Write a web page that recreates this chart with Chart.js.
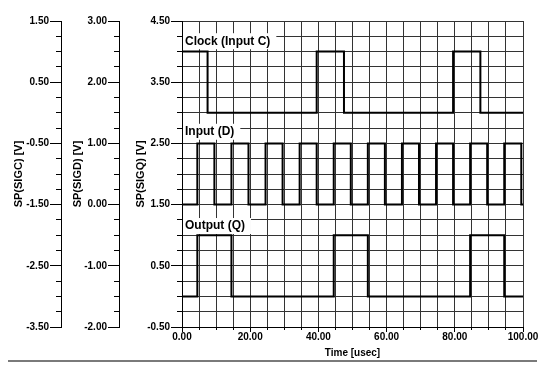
<!DOCTYPE html>
<html><head><meta charset="utf-8">
<script src="https://cdn.jsdelivr.net/npm/chart.js@4.4.0/dist/chart.umd.min.js"></script>
<style>html,body{margin:0;padding:0;background:#fff;}canvas{display:block;}</style>
</head><body>
<canvas id="c" width="544" height="369"></canvas>
<script>
// ---- data ----
const clockTime  = [0, 7.5, 7.5, 39.5, 39.5, 47.5, 47.5, 79.5, 79.5, 87.5, 87.5, 100];
const clockValue = [1, 1,   0,   0,    1,    1,    0,    0,    1,    1,    0,    0];

const inputTime  = [0, 4.5, 4.5, 9.5, 9.5, 14.5, 14.5, 19.5, 19.5, 24.5, 24.5, 29.5, 29.5, 34.5, 34.5,
                    39.5, 39.5, 44.5, 44.5, 49.5, 49.5, 54.5, 54.5, 59.5, 59.5, 64.5, 64.5, 69.5, 69.5,
                    74.5, 74.5, 79.5, 79.5, 84.5, 84.5, 89.5, 89.5, 94.5, 94.5, 99.5, 99.5, 100];
const inputValue = [0, 0, 1, 1, 0, 0, 1, 1, 0, 0, 1, 1, 0, 0, 1,
                    1, 0, 0, 1, 1, 0, 0, 1, 1, 0, 0, 1, 1, 0,
                    0, 1, 1, 0, 0, 1, 1, 0, 0, 1, 1, 0, 0];

const outputTime  = [0, 4.5, 4.5, 14.5, 14.5, 44.5, 44.5, 54.5, 54.5, 84.5, 84.5, 94.5, 94.5, 100];
const outputValue = [0, 0,   1,   1,    0,    0,    1,    1,    0,    0,    1,    1,    0,    0];

const signalLabels = ['Clock (Input C)', 'Input (D)', 'Output (Q)'];
const signalLabelY = [4.17, 2.69, 1.15];   // in SP(SIGQ) units

const xMajorTicks    = [0, 20, 40, 60, 80, 100];
const sigcMajorTicks = [-3.5, -2.5, -1.5, -0.5, 0.5, 1.5];
const sigdMajorTicks = [-2, -1, 0, 1, 2, 3];
const sigqMajorTicks = [-0.5, 0.5, 1.5, 2.5, 3.5, 4.5];

// ---- chart ----
Chart.defaults.font.family = '"Liberation Sans", Arial, sans-serif';
Chart.defaults.font.size = 10;
Chart.defaults.font.weight = 'bold';
Chart.defaults.color = '#000';

function pts(t, v) { return t.map((x, i) => ({x: x, y: v[i]})); }
function majorCb(list) {
  return function (value) {
    return list.some(m => Math.abs(m - value) < 1e-6) ? Number(value).toFixed(2) : '';
  };
}
function align(p) { return Math.round(p - 0.5) + 0.5; }

const labelPlugin = {
  id: 'sigLabels',
  beforeDatasetsDraw(chart) {
    const ctx = chart.ctx, sq = chart.scales.yQ, area = chart.chartArea;
    ctx.save();
    ctx.font = 'bold 12px "Liberation Sans", Arial, sans-serif';
    ctx.textBaseline = 'middle';
    signalLabels.forEach((txt, i) => {
      const y = sq.getPixelForValue(signalLabelY[i]);
      const w = ctx.measureText(txt).width;
      ctx.fillStyle = '#fff';
      ctx.fillRect(area.left + 1, y - 8, w + 8, 16);
      ctx.fillStyle = '#000';
      ctx.fillText(txt, area.left + 3, y);
    });
    ctx.restore();
  }
};

const tickPlugin = {
  id: 'tickMarks',
  afterDraw(chart) {
    const ctx = chart.ctx;
    ctx.save();
    ctx.strokeStyle = '#000';
    ctx.lineWidth = 1;
    ['yC', 'yD', 'yQ'].forEach(id => {
      const s = chart.scales[id];
      s.ticks.forEach(t => {
        const y = align(s.getPixelForValue(t.value));
        const len = t.label ? 11 : 5;
        ctx.beginPath(); ctx.moveTo(s.right - len, y); ctx.lineTo(s.right, y); ctx.stroke();
      });
    });
    const sx = chart.scales.x;
    sx.ticks.forEach(t => {
      const x = align(sx.getPixelForValue(t.value));
      const len = t.label ? 5 : 3;
      ctx.beginPath(); ctx.moveTo(x, sx.top); ctx.lineTo(x, sx.top + len); ctx.stroke();
    });
    // bottom rule
    ctx.strokeStyle = '#7a7a7a';
    ctx.lineWidth = 2;
    ctx.beginPath(); ctx.moveTo(8, 361); ctx.lineTo(537, 361); ctx.stroke();
    ctx.restore();
  }
};

const lineStyle = {borderColor: '#000', borderWidth: 2, pointRadius: 0, tension: 0, fill: false};

new Chart(document.getElementById('c'), {
  type: 'line',
  data: {
    datasets: [
      Object.assign({label: 'Clock (Input C)', data: pts(clockTime, clockValue), yAxisID: 'yC'}, lineStyle),
      Object.assign({label: 'Input (D)', data: pts(inputTime, inputValue), yAxisID: 'yD'}, lineStyle),
      Object.assign({label: 'Output (Q)', data: pts(outputTime, outputValue), yAxisID: 'yQ'}, lineStyle)
    ]
  },
  options: {
    responsive: false,
    animation: false,
    layout: {padding: {left: 0, right: 21, top: 21, bottom: 0}},
    plugins: {legend: {display: false}, tooltip: {enabled: false}},
    scales: {
      x: {
        type: 'linear', position: 'bottom', min: 0, max: 100,
        ticks: {stepSize: 5, autoSkip: false, maxRotation: 0, padding: 4, callback: majorCb(xMajorTicks)},
        grid: {color: '#333', lineWidth: 1, drawTicks: false},
        border: {color: '#000', width: 1},
        title: {display: true, text: 'Time [usec]', font: {size: 10, weight: 'bold'}, padding: {top: 0, bottom: 10}},
        afterFit(s) { s.height = 42; }
      },
      yQ: {
        type: 'linear', position: 'left', weight: 1, min: -0.5, max: 4.5,
        ticks: {stepSize: 0.25, autoSkip: false, padding: 12, callback: majorCb(sigqMajorTicks)},
        grid: {color: '#333', lineWidth: 1, drawTicks: false},
        border: {color: '#000', width: 1},
        title: {display: true, text: 'SP(SIGQ) [V]', font: {size: 11, weight: 'bold'}, padding: {top: 15, bottom: 0}},
        afterFit(s) { s.width = 63; }
      },
      yD: {
        type: 'linear', position: 'left', weight: 2, min: -2, max: 3,
        ticks: {stepSize: 0.25, autoSkip: false, padding: 12, callback: majorCb(sigdMajorTicks)},
        grid: {drawOnChartArea: false, drawTicks: false},
        border: {color: '#000', width: 1},
        title: {display: true, text: 'SP(SIGD) [V]', font: {size: 11, weight: 'bold'}, padding: {top: 10, bottom: 0}},
        afterFit(s) { s.width = 58; }
      },
      yC: {
        type: 'linear', position: 'left', weight: 3, min: -3.5, max: 1.5,
        ticks: {stepSize: 0.25, autoSkip: false, padding: 12, callback: majorCb(sigcMajorTicks)},
        grid: {drawOnChartArea: false, drawTicks: false},
        border: {color: '#000', width: 1},
        title: {display: true, text: 'SP(SIGC) [V]', font: {size: 11, weight: 'bold'}, padding: {top: 12, bottom: 0}},
        afterFit(s) { s.width = 61; }
      }
    }
  },
  plugins: [labelPlugin, tickPlugin]
});
</script>
</body></html>
